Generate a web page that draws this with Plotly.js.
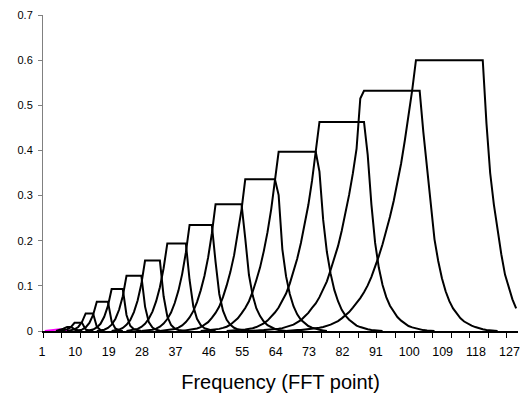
<!DOCTYPE html>
<html>
<head>
<meta charset="utf-8">
<script src="https://cdn.plot.ly/plotly-3.0.1.min.js"></script>
<style>html,body{margin:0;padding:0;background:#fff;}#chart{width:520px;height:408px;}</style>
</head>
<body>
<div id="chart"></div>
<script>
// Filter bank: each filter is stored as the FFT point where its values begin, plus its values.
const filterStarts = [1, 4, 5, 7, 9, 12, 15, 19, 23, 27, 32, 38, 43, 50, 56, 66];
const f1 = [0, 0.001, 0.002, 0.004, 0.004, 0.002, 0.001, 0];
const f2 = [0, 0.002, 0.005, 0.009, 0.009, 0.004, 0.001, 0];
const f3 = [0, 0.0013, 0.0036, 0.0086, 0.018, 0.018, 0.018, 0.0035, 0.0006, 0];
const f4 = [0, 0.001, 0.0035, 0.0089, 0.0197, 0.039, 0.039, 0.039, 0.0096, 0.002, 0];
const f5 = [0, 0.001, 0.003, 0.0079, 0.018, 0.0355, 0.065, 0.065, 0.065, 0.065, 0.0208, 0.0057, 0.0014, 0];
const f6 = [0, 0.0012, 0.0031, 0.0078, 0.016, 0.0316, 0.0555, 0.093, 0.093, 0.093, 0.093, 0.0355, 0.0115, 0.0037, 0.0011, 0];
const f7 = [0, 0.0012, 0.0029, 0.0069, 0.0141, 0.0267, 0.047, 0.077, 0.1225, 0.1225, 0.1225, 0.1225, 0.1225, 0.054, 0.020, 0.0077, 0.0027, 0.0007, 0];
const f8 = [0, 0.0014, 0.0031, 0.0067, 0.0136, 0.0239, 0.042, 0.0676, 0.104, 0.156, 0.156, 0.156, 0.156, 0.156, 0.077, 0.032, 0.0136, 0.0054, 0.0021, 0.0005, 0];
const f9 = [0, 0.0012, 0.0024, 0.0047, 0.0089, 0.016, 0.027, 0.043, 0.066, 0.097, 0.139, 0.194, 0.194, 0.194, 0.194, 0.194, 0.194, 0.113, 0.055, 0.027, 0.013, 0.0062, 0.0029, 0.001, 0];
const f10 = [0, 0.001, 0.0016, 0.003, 0.0053, 0.0096, 0.0165, 0.0265, 0.041, 0.062, 0.0895, 0.126, 0.174, 0.235, 0.235, 0.235, 0.235, 0.235, 0.235, 0.235, 0.153, 0.082, 0.045, 0.0247, 0.0136, 0.0071, 0.0037, 0.0016, 0.0007, 0];
const f11 = [0, 0.001, 0.0016, 0.0025, 0.0045, 0.0074, 0.0124, 0.0197, 0.030, 0.044, 0.064, 0.09, 0.122, 0.163, 0.216, 0.281, 0.281, 0.281, 0.281, 0.281, 0.281, 0.281, 0.281, 0.205, 0.124, 0.079, 0.05, 0.033, 0.021, 0.013, 0.008, 0.0045, 0.0022, 0.001, 0];
const f12 = [0, 0.0015, 0.0022, 0.0035, 0.0057, 0.0084, 0.013, 0.0195, 0.029, 0.04, 0.054, 0.075, 0.101, 0.131, 0.168, 0.214, 0.269, 0.336, 0.336, 0.336, 0.336, 0.336, 0.336, 0.336, 0.336, 0.336, 0.301, 0.181, 0.121, 0.082, 0.055, 0.037, 0.025, 0.017, 0.011, 0.0074, 0.0047, 0.0027, 0.0013, 0];
const f13 = [0, 0.001, 0.0015, 0.002, 0.003, 0.0047, 0.007, 0.0095, 0.014, 0.02, 0.028, 0.039, 0.051, 0.066, 0.087, 0.113, 0.141, 0.177, 0.219, 0.27, 0.328, 0.397, 0.397, 0.397, 0.397, 0.397, 0.397, 0.397, 0.397, 0.397, 0.397, 0.397, 0.353, 0.246, 0.175, 0.127, 0.091, 0.066, 0.047, 0.034, 0.025, 0.0175, 0.012, 0.0087, 0.006, 0.004, 0.0024, 0.0014, 0.0008, 0];
const f14 = [0, 0.001, 0.0015, 0.002, 0.0027, 0.0033, 0.0045, 0.0063, 0.0088, 0.012, 0.017, 0.023, 0.031, 0.041, 0.052, 0.066, 0.083, 0.105, 0.131, 0.16, 0.195, 0.234, 0.279, 0.333, 0.394, 0.463, 0.463, 0.463, 0.463, 0.463, 0.463, 0.463, 0.463, 0.463, 0.463, 0.463, 0.463, 0.463, 0.39, 0.28, 0.195, 0.14, 0.102, 0.075, 0.056, 0.042, 0.031, 0.023, 0.016, 0.011, 0.008, 0.0055, 0.0035, 0.002, 0.001, 0.0005, 0];
const f15 = [0, 0.001, 0.0013, 0.0017, 0.002, 0.0025, 0.003, 0.0037, 0.0048, 0.0064, 0.0085, 0.011, 0.014, 0.019, 0.024, 0.032, 0.04, 0.051, 0.061, 0.075, 0.091, 0.11, 0.135, 0.161, 0.188, 0.222, 0.26, 0.302, 0.349, 0.404, 0.515, 0.532, 0.532, 0.532, 0.532, 0.532, 0.532, 0.532, 0.532, 0.532, 0.532, 0.532, 0.532, 0.532, 0.532, 0.532, 0.532, 0.44, 0.362, 0.272, 0.203, 0.155, 0.117, 0.088, 0.066, 0.05, 0.038, 0.028, 0.021, 0.016, 0.012, 0.0087, 0.006, 0.004, 0.0024, 0.0015, 0.001, 0];
const f16 = [0, 0.001, 0.001, 0.002, 0.002, 0.003, 0.004, 0.0045, 0.005, 0.007, 0.009, 0.011, 0.014, 0.018, 0.022, 0.028, 0.035, 0.042, 0.052, 0.062, 0.073, 0.086, 0.101, 0.12, 0.142, 0.166, 0.192, 0.22, 0.253, 0.288, 0.328, 0.371, 0.422, 0.475, 0.534, 0.6, 0.6, 0.6, 0.6, 0.6, 0.6, 0.6, 0.6, 0.6, 0.6, 0.6, 0.6, 0.6, 0.6, 0.6, 0.6, 0.6, 0.6, 0.6, 0.46, 0.35, 0.28, 0.22, 0.17, 0.125, 0.095, 0.07, 0.05];
const filterValues = [f1, f2, f3, f4, f5, f6, f7, f8, f9, f10, f11, f12, f13, f14, f15, f16];
const filterColors = ['#ff00ff', '#000000', '#000000', '#000000', '#000000', '#000000', '#000000', '#000000', '#000000', '#000000', '#000000', '#000000', '#000000', '#000000', '#000000', '#000000'];

const xTickLabels = ['1', '10', '19', '28', '37', '46', '55', '64', '73', '82', '91', '100', '109', '118', '127'];
const yTickLabels = ['0', '0.1', '0.2', '0.3', '0.4', '0.5', '0.6', '0.7'];
const xTitle = 'Frequency (FFT point)';

const traces = filterValues.map(function (vals, k) {
  return {
    type: 'scatter', mode: 'lines',
    x: vals.map(function (_, j) { return filterStarts[k] + j; }),
    y: vals,
    line: { color: filterColors[k], width: 2 },
    hoverinfo: 'skip', showlegend: false
  };
});

const layout = {
  width: 520, height: 408,
  margin: { l: 43, r: 2, t: 15, b: 77 },
  paper_bgcolor: '#ffffff', plot_bgcolor: '#ffffff',
  font: { family: 'Liberation Sans, Arial, sans-serif', color: '#000000' },
  showlegend: false,
  xaxis: {
    range: [0.5, 128.5], fixedrange: true,
    tickmode: 'array', tickvals: xTickLabels.map(Number), ticktext: xTickLabels,
    ticks: '', showgrid: false, zeroline: false,
    showline: true, linecolor: '#000000', linewidth: 2,
    tickfont: { size: 12.5, color: '#000000' }, ticklabelstandoff: 8,
    ticklabelshift: -3,
    ticklabeloverflow: 'allow',
    minor: { ticks: 'outside', ticklen: 5, tickwidth: 1, tickcolor: '#000000', tickmode: 'linear', tick0: 0.5, dtick: 5, showgrid: false },
    title: { text: xTitle, font: { size: 20, color: '#000000' }, standoff: 17 }
  },
  yaxis: {
    range: [0, 0.7], fixedrange: true,
    tickmode: 'array', tickvals: yTickLabels.map(Number), ticktext: yTickLabels,
    ticks: 'outside', ticklen: 4, tickwidth: 1, tickcolor: '#808080',
    showline: true, linecolor: '#808080', linewidth: 1,
    showgrid: false, zeroline: false,
    tickfont: { size: 11, color: '#000000' }, ticklabelstandoff: 3
  }
};

Plotly.newPlot('chart', traces, layout, { displayModeBar: false, staticPlot: true });
</script>
</body>
</html>
